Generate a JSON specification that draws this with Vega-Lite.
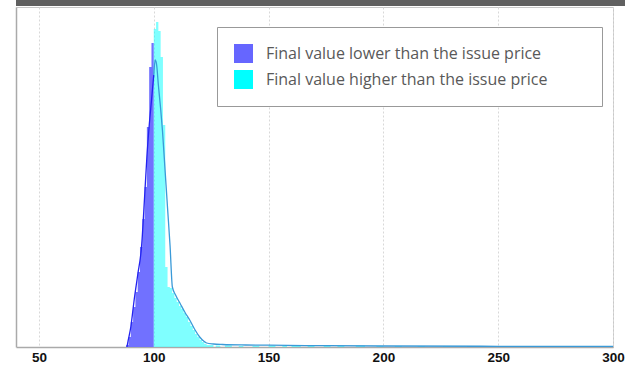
{
  "$schema": "https://vega.github.io/schema/vega-lite/v6.json",
  "padding": 0,
  "background": "white",
  "spacing": 0,
  "align": "none",
  "datasets": {
    "bars": [
      {"x": 88, "h": 2, "series": "Final value lower than the issue price"},
      {"x": 89, "h": 10, "series": "Final value lower than the issue price"},
      {"x": 90, "h": 25, "series": "Final value lower than the issue price"},
      {"x": 91, "h": 40, "series": "Final value lower than the issue price"},
      {"x": 92, "h": 55, "series": "Final value lower than the issue price"},
      {"x": 93, "h": 75, "series": "Final value lower than the issue price"},
      {"x": 94, "h": 100, "series": "Final value lower than the issue price"},
      {"x": 95, "h": 128, "series": "Final value lower than the issue price"},
      {"x": 96, "h": 160, "series": "Final value lower than the issue price"},
      {"x": 97, "h": 220, "series": "Final value lower than the issue price"},
      {"x": 98, "h": 280, "series": "Final value lower than the issue price"},
      {"x": 99, "h": 304, "series": "Final value lower than the issue price"},
      {"x": 100, "h": 304, "series": "Final value lower than the issue price"},
      {"x": 100, "h": 318, "series": "Final value higher than the issue price"},
      {"x": 101, "h": 325, "series": "Final value higher than the issue price"},
      {"x": 102, "h": 316, "series": "Final value higher than the issue price"},
      {"x": 103, "h": 290, "series": "Final value higher than the issue price"},
      {"x": 104, "h": 222, "series": "Final value higher than the issue price"},
      {"x": 105, "h": 80, "series": "Final value higher than the issue price"},
      {"x": 106, "h": 60, "series": "Final value higher than the issue price"},
      {"x": 107, "h": 59, "series": "Final value higher than the issue price"},
      {"x": 108, "h": 54, "series": "Final value higher than the issue price"},
      {"x": 109, "h": 49, "series": "Final value higher than the issue price"},
      {"x": 110, "h": 45, "series": "Final value higher than the issue price"},
      {"x": 111, "h": 41, "series": "Final value higher than the issue price"},
      {"x": 112, "h": 38, "series": "Final value higher than the issue price"},
      {"x": 113, "h": 34, "series": "Final value higher than the issue price"},
      {"x": 114, "h": 30, "series": "Final value higher than the issue price"},
      {"x": 115, "h": 25, "series": "Final value higher than the issue price"},
      {"x": 116, "h": 21, "series": "Final value higher than the issue price"},
      {"x": 117, "h": 17, "series": "Final value higher than the issue price"},
      {"x": 118, "h": 13, "series": "Final value higher than the issue price"},
      {"x": 119, "h": 10, "series": "Final value higher than the issue price"},
      {"x": 120, "h": 7, "series": "Final value higher than the issue price"},
      {"x": 121, "h": 5, "series": "Final value higher than the issue price"},
      {"x": 122, "h": 3, "series": "Final value higher than the issue price"},
      {"x": 123, "h": 2, "series": "Final value higher than the issue price"},
      {"x": 124, "h": 2, "series": "Final value higher than the issue price"},
      {"x": 126, "h": 0, "series": "Final value higher than the issue price"},
      {"x": 127, "h": 1.5, "series": "Final value higher than the issue price"},
      {"x": 129, "h": 0, "series": "Final value higher than the issue price"},
      {"x": 131, "h": 1.5, "series": "Final value higher than the issue price"},
      {"x": 134, "h": 0, "series": "Final value higher than the issue price"},
      {"x": 137, "h": 1, "series": "Final value higher than the issue price"},
      {"x": 139, "h": 0, "series": "Final value higher than the issue price"},
      {"x": 143, "h": 1, "series": "Final value higher than the issue price"},
      {"x": 146, "h": 0, "series": "Final value higher than the issue price"},
      {"x": 150, "h": 1.5, "series": "Final value higher than the issue price"},
      {"x": 153, "h": 0, "series": "Final value higher than the issue price"},
      {"x": 156, "h": 1, "series": "Final value higher than the issue price"},
      {"x": 158, "h": 0, "series": "Final value higher than the issue price"},
      {"x": 160, "h": 2, "series": "Final value higher than the issue price"},
      {"x": 164, "h": 0, "series": "Final value higher than the issue price"},
      {"x": 167, "h": 1.5, "series": "Final value higher than the issue price"},
      {"x": 170, "h": 0, "series": "Final value higher than the issue price"},
      {"x": 174, "h": 1, "series": "Final value higher than the issue price"},
      {"x": 177, "h": 0, "series": "Final value higher than the issue price"},
      {"x": 180, "h": 1.5, "series": "Final value higher than the issue price"},
      {"x": 183, "h": 0, "series": "Final value higher than the issue price"},
      {"x": 188, "h": 1.5, "series": "Final value higher than the issue price"},
      {"x": 192, "h": 0, "series": "Final value higher than the issue price"},
      {"x": 197, "h": 1, "series": "Final value higher than the issue price"},
      {"x": 200, "h": 0, "series": "Final value higher than the issue price"},
      {"x": 205, "h": 1, "series": "Final value higher than the issue price"},
      {"x": 208, "h": 0, "series": "Final value higher than the issue price"},
      {"x": 215, "h": 1, "series": "Final value higher than the issue price"},
      {"x": 218, "h": 0, "series": "Final value higher than the issue price"},
      {"x": 226, "h": 1, "series": "Final value higher than the issue price"},
      {"x": 229, "h": 0, "series": "Final value higher than the issue price"},
      {"x": 240, "h": 1, "series": "Final value higher than the issue price"},
      {"x": 244, "h": 0, "series": "Final value higher than the issue price"},
      {"x": 250, "h": 1, "series": "Final value higher than the issue price"},
      {"x": 253, "h": 0, "series": "Final value higher than the issue price"},
      {"x": 262, "h": 1, "series": "Final value higher than the issue price"},
      {"x": 266, "h": 0, "series": "Final value higher than the issue price"}
    ],
    "lineLow": [
      {"x": 88.3, "h": 0}, {"x": 88.8, "h": 6}, {"x": 90, "h": 20}, {"x": 91.4, "h": 46},
      {"x": 93, "h": 72}, {"x": 94.7, "h": 101}, {"x": 96, "h": 150}, {"x": 97, "h": 190},
      {"x": 98, "h": 221}, {"x": 99.1, "h": 249}, {"x": 100, "h": 272}
    ],
    "lineHigh": [
      {"x": 100, "h": 272}, {"x": 100.6, "h": 287}, {"x": 101.2, "h": 283}, {"x": 102, "h": 262},
      {"x": 103, "h": 238}, {"x": 103.8, "h": 216}, {"x": 105, "h": 174}, {"x": 106, "h": 139},
      {"x": 107.1, "h": 101}, {"x": 108.1, "h": 60}, {"x": 109.5, "h": 52}, {"x": 111.6, "h": 43},
      {"x": 113.5, "h": 35}, {"x": 115.9, "h": 26}, {"x": 118, "h": 17}, {"x": 120, "h": 10},
      {"x": 121.7, "h": 6}, {"x": 123, "h": 4}, {"x": 126, "h": 3}, {"x": 130, "h": 2.5},
      {"x": 140, "h": 2}, {"x": 150, "h": 1.8}, {"x": 175, "h": 1.3}, {"x": 200, "h": 1},
      {"x": 250, "h": 0.7}, {"x": 300, "h": 0.5}
    ]
  },
  "vconcat": [
    {
      "width": 614,
      "height": 6,
      "view": {"fill": "#606060", "stroke": null},
      "data": {"values": [{"a": 1}]},
      "mark": {"type": "point", "opacity": 0},
      "encoding": {}
    },
    {
      "width": 597,
      "height": 340,
      "view": {"stroke": "#c8c8c8"},
      "layer": [
        {
          "data": {"name": "bars"},
          "mark": {"type": "area", "interpolate": "step-after", "clip": true},
          "encoding": {
            "x": {
              "field": "x", "type": "quantitative",
              "scale": {"domain": [40, 300], "nice": false, "zero": false},
              "axis": {
                "title": null, "values": [50, 100, 150, 200, 250, 300],
                "grid": true, "gridDash": [2, 2], "gridColor": "#d8d8d8",
                "domainColor": "#aaaaaa", "domainWidth": 1.5, "ticks": false,
                "labelFont": "Liberation Sans", "labelFontWeight": "bold", "labelFontSize": 13.5,
                "labelColor": "#111111", "labelPadding": 3, "labelFlush": false
              }
            },
            "y": {
              "field": "h", "type": "quantitative", "stack": null,
              "scale": {"domain": [0, 340], "nice": false},
              "axis": {
                "title": null, "labels": false, "grid": false, "values": [0],
                "ticks": true, "tickSize": 15, "tickColor": "#ffffff",
                "domainColor": "#aaaaaa", "domainWidth": 1.5
              }
            },
            "color": {
              "field": "series", "type": "nominal",
              "scale": {
                "domain": ["Final value lower than the issue price", "Final value higher than the issue price"],
                "range": ["#6666ff", "#00ffff"]
              },
              "legend": {
                "title": null, "orient": "none", "legendX": 201, "legendY": 27,
                "padding": 17, "strokeColor": "#999999", "fillColor": "white",
                "symbolType": "square", "symbolSize": 361, "symbolStrokeWidth": 0, "symbolOpacity": 1,
                "labelFont": "Open Sans", "labelFontSize": 16, "labelColor": "#595959",
                "labelOffset": 13, "rowPadding": 7, "labelLimit": 600,
                "labelExpr": "datum.label + '\u00a0\u00a0\u00a0\u00a0\u00a0\u00a0\u00a0\u00a0\u00a0\u200b'",
                "encode": {
                  "symbols": {
                    "update": {
                      "fillOpacity": {"value": 1},
                      "opacity": {"value": 1}
                    }
                  }
                }
              }
            },
            "fillOpacity": {
              "field": "series", "type": "nominal",
              "scale": {
                "domain": ["Final value lower than the issue price", "Final value higher than the issue price"],
                "range": [0.93, 0.5]
              },
              "legend": null
            }
          }
        },
        {
          "data": {"name": "lineLow"},
          "mark": {"type": "line", "color": "#2323f0", "strokeWidth": 1.3, "interpolate": "monotone", "clip": true},
          "encoding": {
            "x": {"field": "x", "type": "quantitative"},
            "y": {"field": "h", "type": "quantitative"}
          }
        },
        {
          "data": {"name": "lineHigh"},
          "mark": {"type": "line", "color": "#3a9ad8", "strokeWidth": 1.3, "interpolate": "monotone", "clip": true},
          "encoding": {
            "x": {"field": "x", "type": "quantitative"},
            "y": {"field": "h", "type": "quantitative"}
          }
        }
      ]
    }
  ]
}
